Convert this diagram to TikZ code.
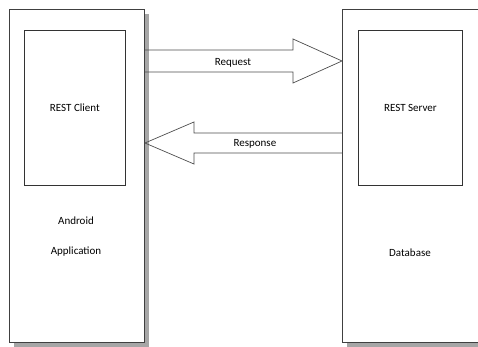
\documentclass[tikz,border=0pt]{standalone}
\usepackage{fontspec}
\setmainfont{Carlito}
\usetikzlibrary{calc,shadows}

\begin{document}
\begin{tikzpicture}[x=1pt,y=-1pt,font=\fontsize{11}{13}\selectfont,
every node/.style={inner sep=0pt},
tier/.style={draw=black!75, line width=0.9pt, fill=white, anchor=north west,
    drop shadow={shadow xshift=4.5pt, shadow yshift=-4.5pt, fill=black!35, opacity=1}},
part/.style={draw=black!80, line width=0.8pt, fill=white, anchor=north west},
pipe/.style={draw=black!70, line width=0.7pt}] %pixel units, y runs down

\useasboundingbox (0,0) rectangle (478,347);
\clip (0,0) rectangle (478,347);

% the two tiers
\node[tier, minimum width=135pt, minimum height=333pt] (android) at (9,9) {};
\node[tier, minimum width=150pt, minimum height=333pt] (server) at (342,9) {};

\node[part, minimum width=101pt, minimum height=155pt] (client) at (24,30) {REST Client};
\node[part, minimum width=104pt, minimum height=155pt] (rest) at (358,30) {REST Server};

\node (andr) at (76,221) {Android};
\node (app) at (76,252) {Application};
\node (db) at (410,253) {Database};

% where the two arrows meet the tiers
\coordinate (reqtail) at ($(android.north east)+(0,52)$);
\coordinate (reqtip) at ($(server.north west)+(0,52)$);
\coordinate (restip) at ($(android.north east)+(0,134)$);
\coordinate (restail) at ($(server.north west)+(0,134)$);

% Request and Response arrows
\draw[pipe] ($(reqtail)+(0,-11)$) -- ($(reqtip)+(-49,-11)$) -- ++(0,-11) -- (reqtip) -- ++(-49,22) -- ++(0,-11) -- ($(reqtail)+(0,11)$);
\draw[pipe] ($(restail)+(0,-10)$) -- ($(restip)+(49,-10)$) -- ++(0,-11) -- (restip) -- ++(49,21) -- ++(0,-11) -- ($(restail)+(0,10)$);
\node (req) at ($(reqtail)+(88,2)$) {Request};
\node (res) at ($(restip)+(110,1)$) {Response};
\end{tikzpicture}
\end{document}
